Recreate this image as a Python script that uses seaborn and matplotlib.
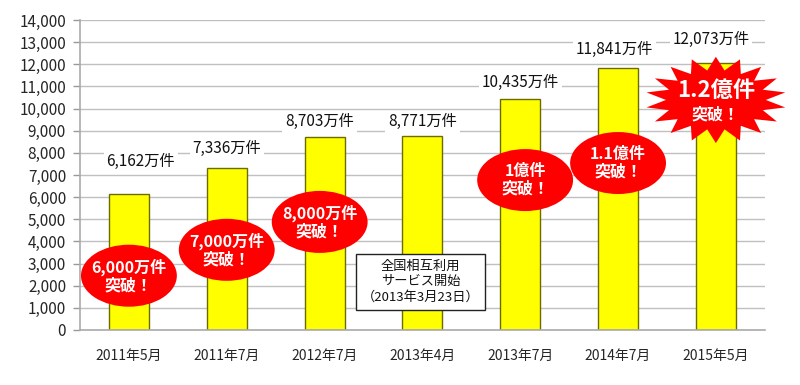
import matplotlib
matplotlib.use("Agg")
import matplotlib.pyplot as plt
import seaborn as sns
import numpy as np
from matplotlib.patches import Ellipse, Polygon

categories = ["2011年5月", "2011年7月", "2012年7月", "2013年4月", "2013年7月", "2014年7月", "2015年5月"]
values = [6162, 7336, 8703, 8771, 10435, 11841, 12073]
value_labels = ["6,162万件", "7,336万件", "8,703万件", "8,771万件", "10,435万件", "11,841万件", "12,073万件"]
label_y = [7600, 8200, 9400, 9400, 11200, 12650, 13100]
label_dx = [0.12, 0.0, -0.05, 0.0, 0.0, -0.04, -0.05]
badges = [("6,000万件\n突破！", 0, 2450), ("7,000万件\n突破！", 1, 3620), ("8,000万件\n突破！", 1.95, 4880),
          ("1億件\n突破！", 4.05, 6770), ("1.1億件\n突破！", 5.0, 7540)]
star_text = ("1.2億件", "突破！")
note_text = "全国相互利用\nサービス開始\n（2013年3月23日）"

sns.set_theme(style="white")
plt.rcParams['font.family'] = ['Noto Sans CJK JP', 'DejaVu Sans']

fig = plt.figure(figsize=(8, 3.85), dpi=100)
ax = fig.add_axes([0.1, 0.143, 0.856, 0.805])

sns.barplot(x=categories, y=values, color="#ffff00", edgecolor="#6b6b00", linewidth=1.0,
            width=0.41, saturation=1, ax=ax, zorder=2)

ax.set_ylim(0, 14000)
ax.set_xlim(-0.5, 6.5)
ax.set_yticks(range(0, 14001, 1000))
ax.set_yticklabels([f"{v:,}" for v in range(0, 14001, 1000)], fontsize=11)
ax.tick_params(axis='y', length=5, color="#999999", width=1, pad=5, left=True)
ax.tick_params(axis='x', length=0, pad=14, labelsize=10)
ax.yaxis.grid(True, color="#c0c0c0", linewidth=1)
ax.set_axisbelow(True)
for s in ["top", "right"]:
    ax.spines[s].set_visible(False)
for s in ["left", "bottom"]:
    ax.spines[s].set_color("#aaaaaa")
    ax.spines[s].set_linewidth(1.2)
ax.set_xlabel("")
ax.set_ylabel("")

for i, (lab, ly) in enumerate(zip(value_labels, label_y)):
    ax.text(i + label_dx[i], ly, lab, ha="center", va="center", fontsize=11, color="#111111",
            bbox=dict(facecolor="white", edgecolor="none", pad=2), zorder=3)

for txt, xc, yc in badges:
    e = Ellipse((xc, yc), width=0.98, height=2800, facecolor="#ff0000", edgecolor="none", zorder=4)
    ax.add_patch(e)
    ax.text(xc, yc, txt, ha="center", va="center", color="white", fontsize=11.5,
            fontweight="bold", linespacing=1.1, zorder=5)

# star burst
n = 18
cx, cy = 6.0, 10390
rx_o, ry_o = 0.72, 1950
rx_i, ry_i = 0.51, 1350
pts = []
for k in range(2 * n):
    ang = np.pi / 2 + k * np.pi / n
    if k % 2 == 0:
        pts.append((cx + rx_o * np.cos(ang), cy + ry_o * np.sin(ang)))
    else:
        pts.append((cx + rx_i * np.cos(ang), cy + ry_i * np.sin(ang)))
ax.add_patch(Polygon(pts, closed=True, facecolor="#ff0000", edgecolor="none", zorder=4, clip_on=False))
ax.text(cx, cy + 420, star_text[0], ha="center", va="center", color="white", fontsize=16,
        fontweight="bold", zorder=5)
ax.text(cx, cy - 650, star_text[1], ha="center", va="center", color="white", fontsize=11.5,
        fontweight="bold", zorder=5)

ax.text(2.98, 2170, note_text, ha="center", va="center", fontsize=9.5, color="#111111",
        linespacing=1.25, zorder=5,
        bbox=dict(facecolor="white", edgecolor="#222222", linewidth=1, boxstyle="square,pad=0.45"))

fig.savefig("out.png", dpi=100)
